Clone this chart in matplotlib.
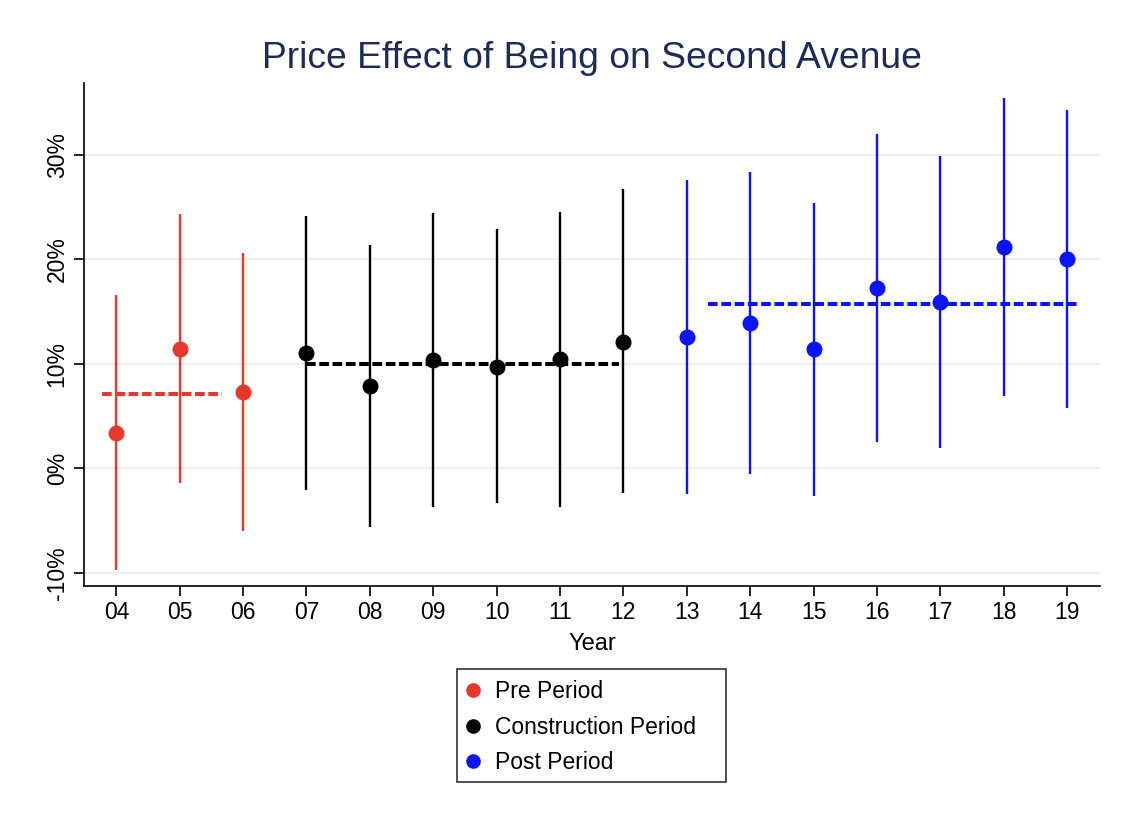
import matplotlib
matplotlib.use('Agg')
import matplotlib.pyplot as plt
from matplotlib.lines import Line2D
from matplotlib.patches import Rectangle

plt.rcParams['font.family'] = ['Liberation Sans', 'DejaVu Sans']

# point estimates and 95% CI bounds, in percent
pre_years = [4, 5, 6]
pre_est = [3.4, 11.4, 7.3]
pre_lo = [-9.7, -1.4, -6.0]
pre_hi = [16.6, 24.3, 20.6]
pre_mean = 7.07

con_years = [7, 8, 9, 10, 11, 12]
con_est = [11.0, 7.9, 10.4, 9.7, 10.45, 12.1]
con_lo = [-2.1, -5.6, -3.7, -3.35, -3.7, -2.4]
con_hi = [24.1, 21.4, 24.4, 22.9, 24.5, 26.7]
con_mean = 9.97

post_years = [13, 14, 15, 16, 17, 18, 19]
post_est = [12.6, 13.9, 11.4, 17.2, 15.9, 21.2, 20.0]
post_lo = [-2.5, -0.55, -2.65, 2.5, 1.9, 6.9, 5.8]
post_hi = [27.6, 28.3, 25.4, 32.0, 29.9, 35.4, 34.3]
post_mean = 15.7

year_labels = ['04', '05', '06', '07', '08', '09', '10', '11', '12',
               '13', '14', '15', '16', '17', '18', '19']
y_ticks = [-10, 0, 10, 20, 30]

red = '#e8382b'
black = '#000000'
blue = '#0a14f5'

fig = plt.figure(figsize=(11.23, 8.19), dpi=100)
ax = fig.add_axes([0.0748, 0.2845, 0.9047, 0.6142])

groups = [
    (pre_years, pre_est, pre_lo, pre_hi, pre_mean, red, (3.77, 5.66)),
    (con_years, con_est, con_lo, con_hi, con_mean, black, (7.0, 11.93)),
    (post_years, post_est, post_lo, post_hi, post_mean, blue, (13.34, 19.21)),
]
for yrs, est, lo, hi, mean, col, span in groups:
    ax.vlines(yrs, lo, hi, color=col, lw=1.7, zorder=2)
    # dashed line = period average
    ax.plot(span, [mean, mean], color=col, lw=2.9, ls=(0, (2.4, 0.9)), zorder=3)
    ax.plot(yrs, est, 'o', color=col, ms=10.5, zorder=4)

ax.set_xlim(3.49, 19.52)
ax.set_ylim(-11.25, 36.85)
ax.set_xticks(range(4, 20))
ax.set_xticklabels(year_labels)
ax.set_yticks(y_ticks)
ax.set_yticklabels([f'{v}%' for v in y_ticks], rotation=90, va='center')
ax.tick_params(axis='both', direction='out', length=7, width=1.2, labelsize=16.5)
ax.tick_params(axis='x', pad=4)
ax.tick_params(axis='y', pad=4)
ax.grid(axis='y', color='#ebebeb', lw=1.1, zorder=0)
ax.set_axisbelow(True)
for s in ['top', 'right']:
    ax.spines[s].set_visible(False)
for s in ['left', 'bottom']:
    ax.spines[s].set_linewidth(1.2)

ax.set_xlabel('Year', fontsize=17, va='center')
ax.xaxis.set_label_coords(0.5, -0.115)

fig.text(0.527, 0.929, 'Price Effect of Being on Second Avenue', fontsize=26.8,
         color='#1c2b5a', ha='center', va='center')

# legend without its own frame; the box is drawn separately so it can be wider
handles = [Line2D([], [], marker='o', ls='none', color=c, ms=9.5)
           for c in (red, black, blue)]
fig.legend(handles, ['Pre Period', 'Construction Period', 'Post Period'],
           loc='center left', bbox_to_anchor=(0.411, 0.1123), fontsize=16.5,
           frameon=False, handletextpad=0.45, labelspacing=0.55, borderpad=0,
           handlelength=1.0, borderaxespad=0)
fig.patches.append(Rectangle((0.4069, 0.0452), 0.2395, 0.138, transform=fig.transFigure,
                             fill=False, edgecolor='#333333', lw=1.2))

fig.savefig('out.png', dpi=100, facecolor='white')
